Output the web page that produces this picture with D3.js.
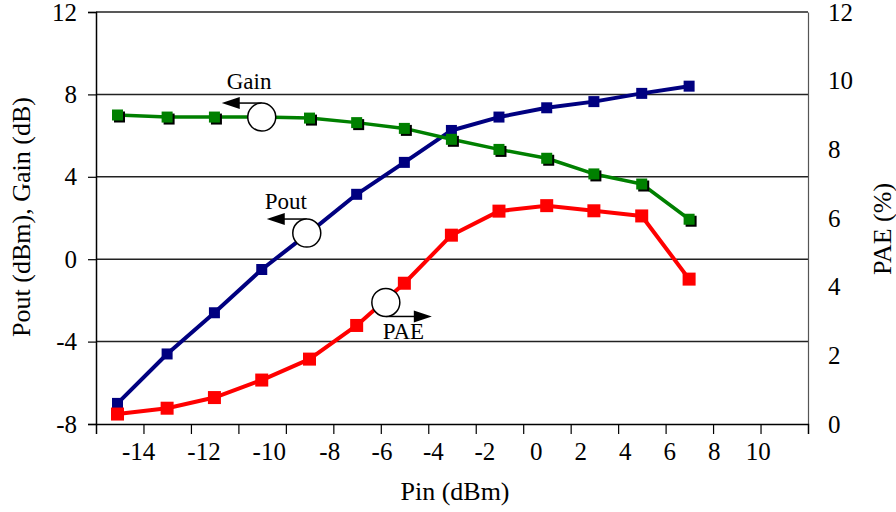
<!DOCTYPE html>
<html>
<head>
<meta charset="utf-8">
<script src="https://cdn.jsdelivr.net/npm/d3@7"></script>
<style>
  html, body { margin: 0; padding: 0; background: #fff; }
  svg { display: block; font-family: "Liberation Serif", "Times New Roman", serif; }
</style>
</head>
<body>
<svg id="chart" width="896" height="512"></svg>
<script>
// ---------------- data ----------------
const pin       = [-14.65, -13.13, -11.68, -10.23, -8.67, -6.97, -5.13, -3.3, -1.45, 0.47, 2.59, 4.74, 6.87];
const pout      = [-7.0, -4.6, -2.6, -0.5, 1.3, 3.15, 4.7, 6.25, 6.9, 7.35, 7.65, 8.05, 8.4];
const gain      = [7.0, 6.9, 6.9, 6.9, 6.85, 6.63, 6.35, 5.82, 5.33, 4.9, 4.14, 3.65, 1.94];
const pae       = [0.29, 0.46, 0.77, 1.28, 1.89, 2.87, 4.1, 5.5, 6.2, 6.36, 6.21, 6.06, 4.22];

const xTickLabels = [-14, -12, -10, -8, -6, -4, -2, 0, 2, 4, 6, 8, 10];
const yLeftTicks  = [-8, -4, 0, 4, 8, 12];
const yRightTicks = [0, 2, 4, 6, 8, 10, 12];

const annLabels = ["Gain", "Pout", "PAE"];
const annPin    = [-10.23, -8.76, -5.85];
const annValue  = [6.9, 1.27, 3.54];
const annAxis   = ["left", "left", "right"];
const annDir    = [-1, -1, 1];

// ---------------- layout / style ----------------
const svg = d3.select("#chart");
const L = 96, R = 808, T = 12, B = 424;
const font = '"Liberation Serif", "Times New Roman", serif';

// frame scale for the evenly spaced tick marks
const xTick = d3.scaleLinear().domain([-18, 12]).range([L, R]);
// Pin scale: the printed Pin labels are not evenly spaced in the original figure
const pinToFrame = d3.scaleLinear()
  .domain([-14, -10, -8, -6, 0, 8, 10])
  .range([-16.2, -10.7, -8.15, -5.95, 0.55, 8.05, 9.9]);
const xPin = v => xTick(pinToFrame(v));
const yL = d3.scaleLinear().domain([-8, 12]).range([B, T]);
const yR = d3.scaleLinear().domain([0, 12]).range([B, T]);

// grid lines
svg.append("g").selectAll("line").data([-4, 0, 4, 8, 12]).join("line")
  .attr("x1", L).attr("x2", R)
  .attr("y1", d => yL(d)).attr("y2", d => yL(d))
  .attr("stroke", "#222").attr("stroke-width", 1.5);

// right frame / axis
const gR = svg.append("g").attr("transform", `translate(${R},0)`)
  .call(d3.axisRight(yR).tickValues(yRightTicks).tickSize(0).tickPadding(20).tickFormat(d => String(d)));
gR.select(".domain").attr("stroke", "#555").attr("stroke-width", 1.2);
gR.selectAll("text").attr("font-family", font).attr("font-size", 25).attr("fill", "#000");

// bottom axis (tick marks only)
const gX = svg.append("g").attr("transform", `translate(0,${B})`)
  .call(d3.axisBottom(xTick).tickValues(d3.range(-16, 11, 2)).tickSize(10).tickSizeOuter(10).tickFormat(""));
gX.select(".domain").attr("stroke", "#000").attr("stroke-width", 1.5);
gX.selectAll(".tick line").attr("stroke", "#000").attr("stroke-width", 1.2);

// bottom tick labels
svg.append("g").selectAll("text").data(xTickLabels).join("text")
  .attr("x", d => xPin(d)).attr("y", 460)
  .attr("text-anchor", "middle")
  .attr("font-family", font).attr("font-size", 25)
  .text(d => String(d));

// left axis
const gY = svg.append("g").attr("transform", `translate(${L},0)`)
  .call(d3.axisLeft(yL).tickValues(yLeftTicks).tickSize(8).tickPadding(11).tickFormat(d => String(d)));
gY.select(".domain").attr("stroke", "#000").attr("stroke-width", 1.5);
gY.selectAll(".tick line").attr("stroke", "#000").attr("stroke-width", 1.2);
gY.selectAll("text").attr("font-family", font).attr("font-size", 25).attr("fill", "#000");

// axis titles
svg.append("text").attr("x", 455).attr("y", 500).attr("text-anchor", "middle")
  .attr("font-family", font).attr("font-size", 26).text("Pin (dBm)");
svg.append("text").attr("transform", "translate(30,217) rotate(-90)").attr("text-anchor", "middle")
  .attr("font-family", font).attr("font-size", 26).text("Pout (dBm), Gain (dB)");
svg.append("text").attr("transform", "translate(891,229) rotate(-90)").attr("text-anchor", "middle")
  .attr("font-family", font).attr("font-size", 26).text("PAE (%)");

// series
function series(values, yScale, color, width, size, shadow) {
  const pts = pin.map((p, i) => [xPin(p), yScale(values[i])]);
  const g = svg.append("g");
  g.append("path").datum(pts)
    .attr("d", d3.line())
    .attr("fill", "none").attr("stroke", color).attr("stroke-width", width)
    .attr("stroke-linejoin", "round");
  if (shadow) {
    g.selectAll("rect.sh").data(pts).join("rect").attr("class", "sh")
      .attr("x", d => d[0] - size / 2 + 2).attr("y", d => d[1] - size / 2 + 2)
      .attr("width", size).attr("height", size).attr("fill", "#000");
  }
  g.selectAll("rect.mk").data(pts).join("rect").attr("class", "mk")
    .attr("x", d => d[0] - size / 2).attr("y", d => d[1] - size / 2)
    .attr("width", size).attr("height", size).attr("fill", color);
}
series(pout, yL, "#000080", 4, 11, false);
series(gain, yL, "#008000", 3.5, 11, true);
series(pae, yR, "#ff0000", 4, 13, false);

// annotations
const r = 14;
const textOffset = { Gain: [-35, -28], Pout: [-42, -24], PAE: [-3, 37] };
annLabels.forEach((lab, i) => {
  const cx = xPin(annPin[i]);
  const cy = (annAxis[i] === "left" ? yL : yR)(annValue[i]);
  const dir = annDir[i];
  const ay = dir < 0 ? cy - r : cy + r;
  const tip = cx + dir * (dir < 0 ? 40 : 46);
  const g = svg.append("g");
  g.append("line").attr("x1", cx).attr("x2", tip - dir * 16).attr("y1", ay).attr("y2", ay)
    .attr("stroke", "#000").attr("stroke-width", 1.5);
  g.append("path")
    .attr("d", `M${tip},${ay} L${tip - dir * 18},${ay - 6} L${tip - dir * 18},${ay + 6} Z`)
    .attr("fill", "#000");
  g.append("circle").attr("cx", cx).attr("cy", cy).attr("r", r)
    .attr("fill", "#fff").attr("stroke", "#000").attr("stroke-width", 1.5);
  g.append("text").attr("x", cx + textOffset[lab][0]).attr("y", cy + textOffset[lab][1])
    .attr("font-family", font).attr("font-size", 23).text(lab);
});
</script>
</body>
</html>
